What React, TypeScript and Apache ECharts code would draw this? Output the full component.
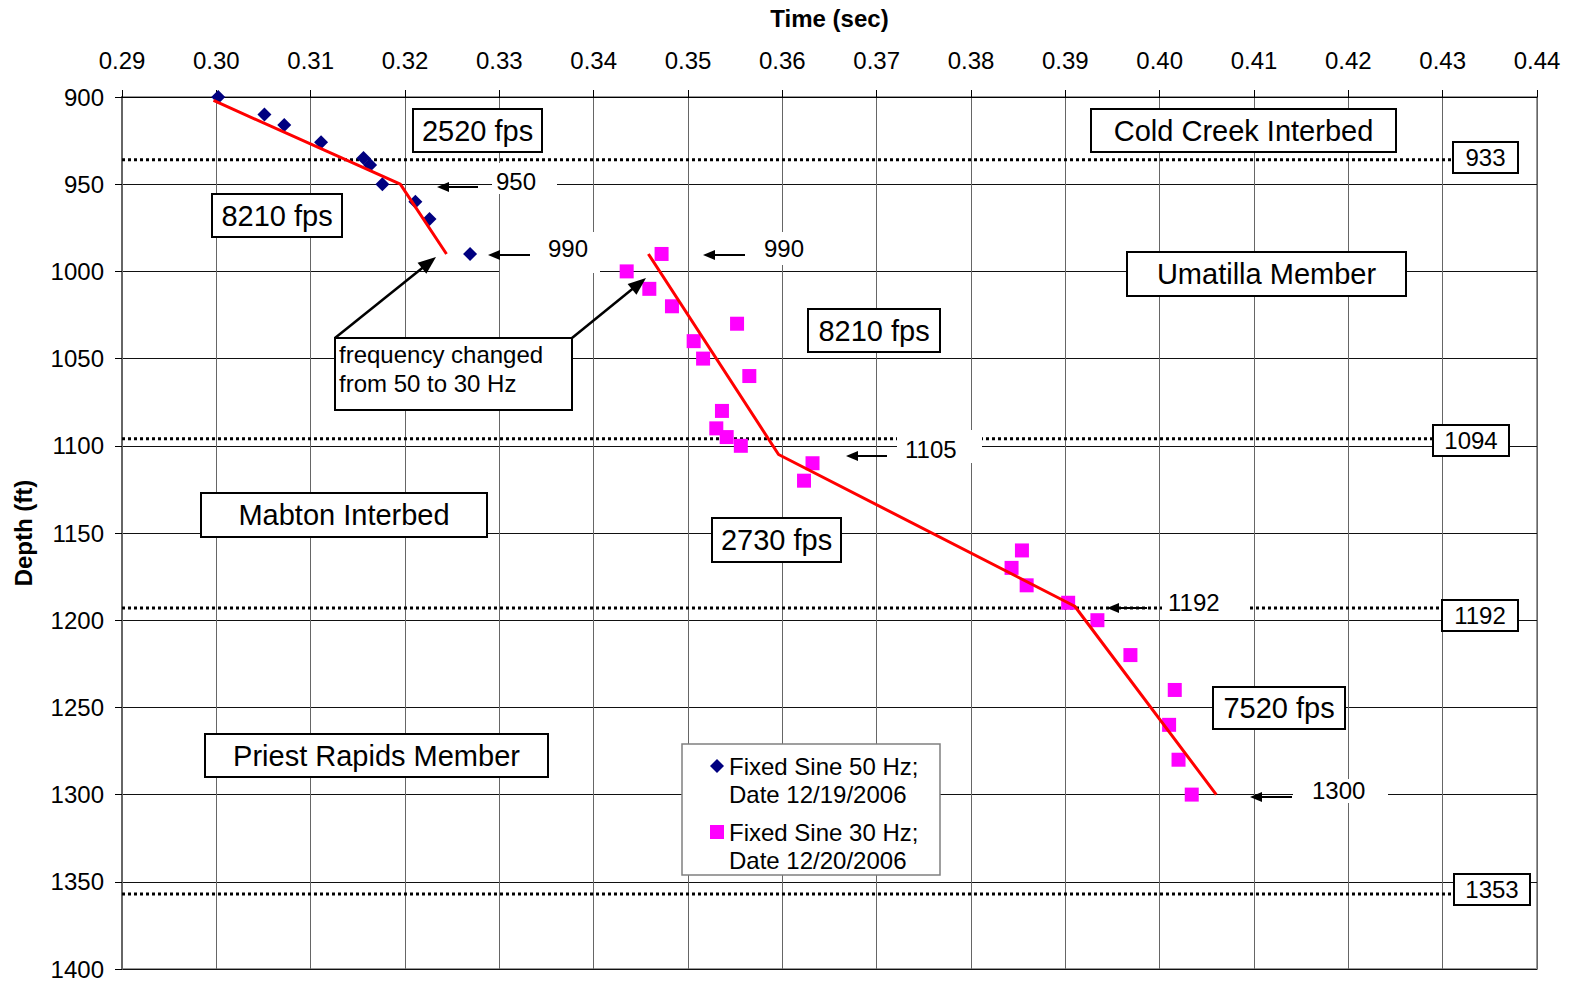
import React, { useEffect, useRef } from "react";
import * as echarts from "echarts";

const FONT = "'Liberation Sans', Arial, Helvetica, sans-serif";

// ---- data ----
const series50Name = "Fixed Sine 50 Hz; Date 12/19/2006";
const series30Name = "Fixed Sine 30 Hz; Date 12/20/2006";

const time50 = [0.3002, 0.3051, 0.3072, 0.3111, 0.3156, 0.3163, 0.3176, 0.3211, 0.3226, 0.3269];
const depth50 = [900, 910, 916, 926, 935, 939, 950, 960, 970, 990];

const time30 = [
  0.3472, 0.3435, 0.3459, 0.3483, 0.3552, 0.3506, 0.3516, 0.3565, 0.3536, 0.353, 0.3541, 0.3556,
  0.3632, 0.3623, 0.3854, 0.3843, 0.3859, 0.3903, 0.3934, 0.3969, 0.4016, 0.401, 0.402, 0.4034,
];
const depth30 = [
  990, 1000, 1010, 1020, 1030, 1040, 1050, 1060, 1080, 1090, 1095, 1100,
  1110, 1120, 1160, 1170, 1180, 1190, 1200, 1220, 1240, 1260, 1280, 1300,
];

const fit50Time = [0.2997, 0.3195, 0.3244];
const fit50Depth = [902, 950, 990];
const fit30Time = [0.3458, 0.3596, 0.391, 0.406];
const fit30Depth = [990, 1105, 1192, 1300];

const horizonDepth = [936, 1096, 1193, 1357];
const horizonLabel = ["933", "1094", "1192", "1353"];
const horizonEndTime = [0.4311, 0.429, 0.4299, 0.4312];

const zip = (a: number[], b: number[]) => a.map((v, i) => [v, b[i]]);

// ---- graphic helpers ----
function boxText(x: number, y: number, w: number, h: number, text: string, fontSize: number, lw = 2) {
  return [
    { type: "rect", z: 10, shape: { x, y, width: w, height: h }, style: { fill: "#fff", stroke: "#000", lineWidth: lw } },
    {
      type: "text", z: 11, x: x + w / 2, y: y + h / 2,
      style: { text, fill: "#000", font: `${fontSize}px ${FONT}`, align: "center", verticalAlign: "middle", textAlign: "center", textVerticalAlign: "middle" },
    },
  ];
}
function plainText(x: number, y: number, text: string, fontSize: number, lineHeight?: number) {
  return {
    type: "text", z: 12, x, y,
    style: { text, fill: "#000", font: `${fontSize}px ${FONT}`, lineHeight, align: "left", verticalAlign: "middle", textAlign: "left", textVerticalAlign: "middle" },
  };
}
function whiteRect(x: number, y: number, w: number, h: number) {
  return { type: "rect", z: 9, shape: { x, y, width: w, height: h }, style: { fill: "#fff" } };
}
function arrow(x1: number, y1: number, x2: number, y2: number, head = 12, half = 5, lw = 2) {
  const dx = x2 - x1, dy = y2 - y1;
  const L = Math.hypot(dx, dy);
  const ux = dx / L, uy = dy / L;
  const bx = x2 - ux * head, by = y2 - uy * head;
  const px = -uy, py = ux;
  return [
    { type: "line", z: 12, shape: { x1, y1, x2: bx + ux * 2, y2: by + uy * 2 }, style: { stroke: "#000", lineWidth: lw } },
    { type: "polygon", z: 12, shape: { points: [[x2, y2], [bx + px * half, by + py * half], [bx - px * half, by - py * half]] }, style: { fill: "#000" } },
  ];
}

export default function App() {
  const ref = useRef<HTMLDivElement>(null);
  useEffect(() => {
    document.body.style.margin = "0";
    const chart = echarts.init(ref.current!, null, { renderer: "svg" });

    const horizonSeries = horizonDepth.map((d, i) => ({
      type: "line",
      name: "horizon" + i,
      data: [[0.29, d], [horizonEndTime[i], d]],
      symbol: "none",
      silent: true,
      z: 3,
      lineStyle: { color: "#000", width: 3, type: [3, 3], cap: "butt" },
    }));

    const horizonBoxes = [
      boxText(1453, 142, 65, 31, horizonLabel[0], 24),
      boxText(1433, 425, 76, 31, horizonLabel[1], 24),
      boxText(1442, 600, 76, 31, horizonLabel[2], 24),
      boxText(1454, 874, 76, 31, horizonLabel[3], 24),
    ].flat();

    const graphics: any[] = [
      // region / velocity labels
      ...boxText(413, 109, 129, 43, "2520 fps", 29),
      ...boxText(212, 194, 130, 43, "8210 fps", 29),
      ...boxText(1091, 109, 305, 43, "Cold Creek Interbed", 29),
      ...boxText(1127, 252, 279, 44, "Umatilla Member", 29),
      ...boxText(808, 309, 132, 43, "8210 fps", 29),
      ...boxText(201, 493, 286, 44, "Mabton Interbed", 29),
      ...boxText(712, 518, 129, 44, "2730 fps", 29),
      ...boxText(1213, 687, 132, 42, "7520 fps", 29),
      ...boxText(205, 734, 343, 43, "Priest Rapids Member", 29),
      ...horizonBoxes,
      // annotation box
      { type: "rect", z: 10, shape: { x: 335, y: 338, width: 237, height: 72 }, style: { fill: "#fff", stroke: "#000", lineWidth: 2 } },
      plainText(339, 369, "frequency changed\nfrom 50 to 30 Hz", 24, 29),
      ...arrow(335, 338, 436, 257, 18, 7, 2.5),
      ...arrow(572, 338, 646, 278, 18, 7, 2.5),
      // pointer labels with white backgrounds
      whiteRect(492, 163, 65, 31),
      plainText(496, 181, "950", 24),
      ...arrow(478, 187, 437, 187),
      whiteRect(500, 232, 100, 41),
      plainText(548, 248, "990", 24),
      ...arrow(530, 255, 488, 255),
      whiteRect(755, 232, 60, 33),
      plainText(764, 248, "990", 24),
      ...arrow(745, 255, 703, 255),
      whiteRect(897, 430, 85, 33),
      plainText(905, 449, "1105", 24),
      ...arrow(887, 456, 846, 456),
      whiteRect(1162, 588, 86, 26),
      plainText(1168, 602, "1192", 24),
      ...arrow(1147, 608, 1107, 608),
      whiteRect(1293, 779, 95, 24),
      plainText(1312, 790, "1300", 24),
      ...arrow(1292, 797, 1250, 797),
      // legend frame
      { type: "rect", z: 10, shape: { x: 682, y: 744, width: 258, height: 131 }, style: { fill: "#fff", stroke: "#808080", lineWidth: 1.5 } },
    ];

    chart.setOption({
      animation: false,
      backgroundColor: "#fff",
      textStyle: { fontFamily: FONT },
      grid: { left: 122, right: 35, top: 97, bottom: 14, show: true, borderColor: "#999", borderWidth: 2, backgroundColor: "transparent" },
      xAxis: {
        type: "value",
        position: "top",
        min: 0.29,
        max: 0.44,
        interval: 0.01,
        name: "Time (sec)",
        nameLocation: "middle",
        nameGap: 67,
        nameTextStyle: { fontSize: 24, fontWeight: "bold", color: "#000", fontFamily: FONT },
        axisLine: { show: true, lineStyle: { color: "#000", width: 1 } },
        axisTick: { show: true, length: 7, lineStyle: { color: "#000" } },
        axisLabel: { fontSize: 24, color: "#000", margin: 25, fontFamily: FONT, formatter: (v: number) => v.toFixed(2) },
        splitLine: { show: true, lineStyle: { color: "#666", width: 1 } },
      },
      yAxis: {
        type: "value",
        inverse: true,
        min: 900,
        max: 1400,
        interval: 50,
        name: "Depth (ft)",
        nameLocation: "middle",
        nameGap: 87,
        nameRotate: 90,
        nameTextStyle: { fontSize: 24, fontWeight: "bold", color: "#000", fontFamily: FONT },
        axisLine: { show: true, lineStyle: { color: "#666", width: 2 } },
        axisTick: { show: true, length: 7, lineStyle: { color: "#000" } },
        axisLabel: { fontSize: 24, color: "#000", margin: 18, fontFamily: FONT, formatter: (v: number) => String(v) },
        splitLine: { show: true, lineStyle: { color: "#111", width: 1 } },
      },
      legend: {
        orient: "vertical",
        left: 710,
        top: 724,
        padding: 0,
        itemWidth: 14,
        itemHeight: 14,
        itemGap: -18,
        z: 20,
        selectedMode: false,
        data: [
          { name: series50Name, icon: "diamond", itemStyle: { opacity: 1 } },
          { name: series30Name, icon: "rect", itemStyle: { opacity: 1 } },
        ],
        formatter: (name: string) => "\n" + name.replace("; ", ";\n"),
        textStyle: { fontSize: 24, lineHeight: 28, color: "#000", fontFamily: FONT },
      },
      series: [
        ...horizonSeries,
        {
          type: "scatter",
          name: series50Name,
          data: zip(time50, depth50),
          symbol: "diamond",
          symbolSize: 14,
          itemStyle: { color: "#000080", opacity: 1 },
          z: 3,
        },
        {
          type: "scatter",
          name: series30Name,
          data: zip(time30, depth30),
          symbol: "rect",
          symbolSize: 14,
          itemStyle: { color: "#FF00FF", opacity: 1 },
          z: 3,
        },
        {
          type: "line",
          name: "fit50",
          data: zip(fit50Time, fit50Depth),
          symbol: "none",
          lineStyle: { color: "#FF0000", width: 3 },
          z: 4,
          silent: true,
        },
        {
          type: "line",
          name: "fit30",
          data: zip(fit30Time, fit30Depth),
          symbol: "none",
          lineStyle: { color: "#FF0000", width: 3 },
          z: 4,
          silent: true,
        },
      ],
      graphic: { elements: graphics },
    });
    return () => chart.dispose();
  }, []);
  return <div ref={ref} style={{ width: 1572, height: 983 }} />;
}
